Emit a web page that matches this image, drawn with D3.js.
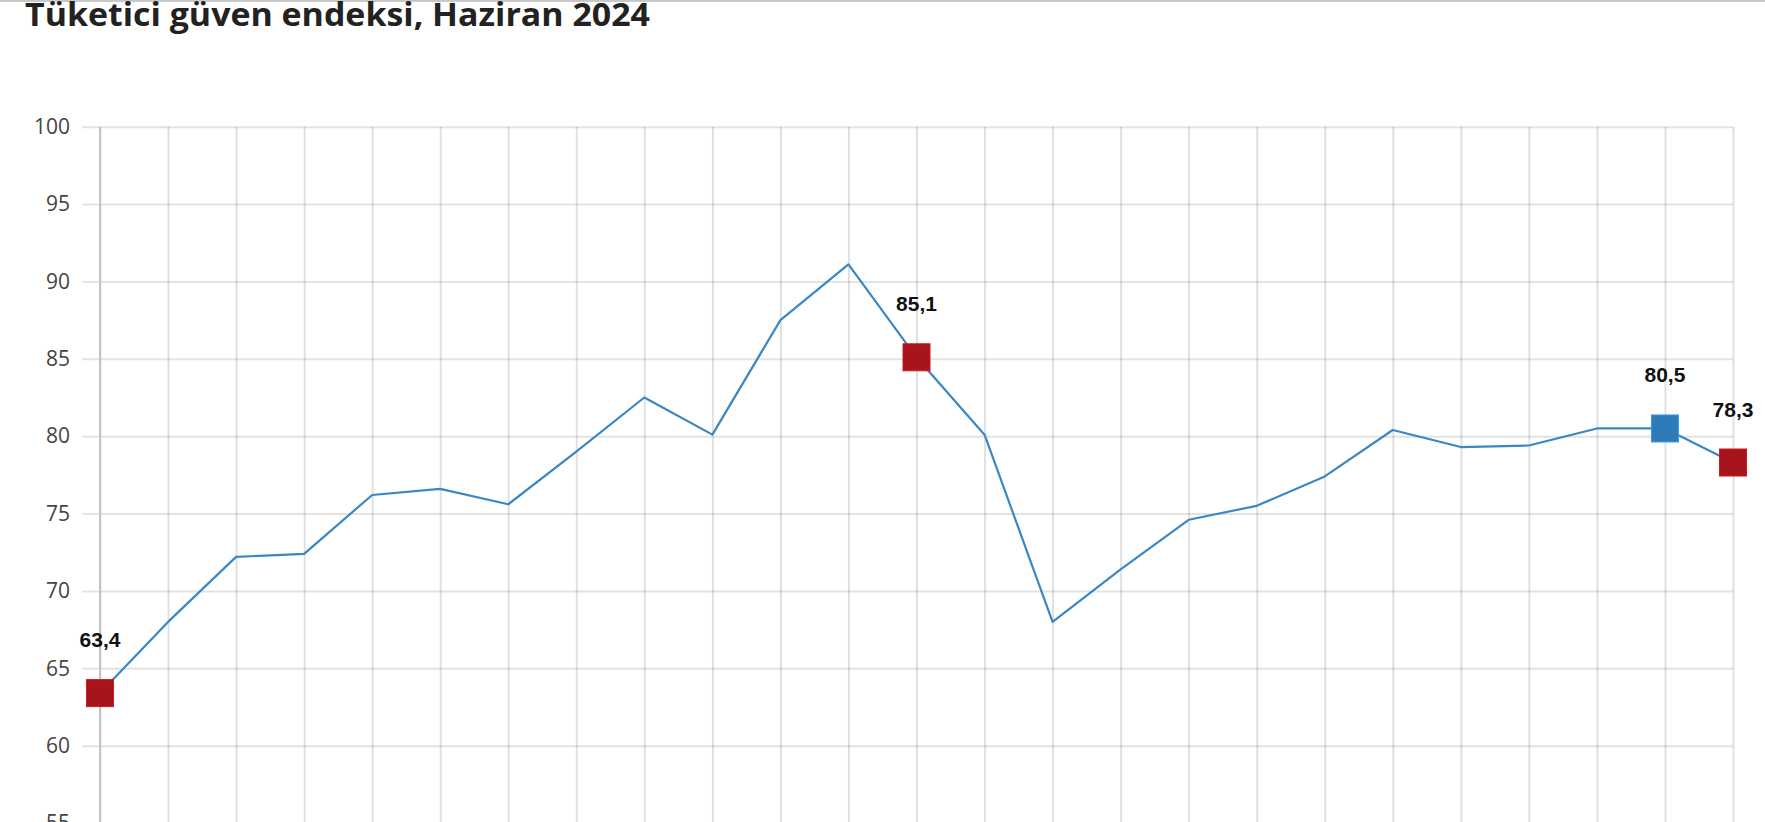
<!DOCTYPE html>
<html>
<head>
<meta charset="utf-8">
<script src="https://cdn.jsdelivr.net/npm/d3@7"></script>
<style>
  html, body { margin: 0; padding: 0; background: #fff; overflow: hidden; }
  svg { display: block; }
</style>
</head>
<body>
<svg id="chart" width="1765" height="822"></svg>
<script>
// ---- Data ----
const title = "Tüketici güven endeksi, Haziran 2024";
const months = ["2022-06","2022-07","2022-08","2022-09","2022-10","2022-11","2022-12",
  "2023-01","2023-02","2023-03","2023-04","2023-05","2023-06","2023-07","2023-08","2023-09",
  "2023-10","2023-11","2023-12","2024-01","2024-02","2024-03","2024-04","2024-05","2024-06"];
const values = [63.4, 68.0, 72.2, 72.4, 76.2, 76.6, 75.6, 79.0, 82.5, 80.1, 87.5, 91.1, 85.1,
  80.1, 68.0, 71.4, 74.6, 75.5, 77.4, 80.4, 79.3, 79.4, 80.5, 80.5, 78.3];
const highlightIdx = [0, 12, 23, 24];
const highlightColor = ["red", "red", "blue", "red"];
const yTicks = [55, 60, 65, 70, 75, 80, 85, 90, 95, 100];

// ---- Layout ----
const svg = d3.select("#chart");
const W = 1765, H = 822;
const x = d3.scalePoint().domain(months).range([100, 1733]);
const y = d3.scaleLinear().domain([60, 100]).range([745.7, 126.7]);
const colors = { red: "#a8141b", blue: "#2e7bba" };

// top border
svg.append("line").attr("x1", 0).attr("x2", W).attr("y1", 1).attr("y2", 1)
  .attr("stroke", "#c8c8c8").attr("stroke-width", 2);

// title
svg.append("text").text(title)
  .attr("x", 25).attr("y", 26)
  .attr("font-family", "'Open Sans', sans-serif")
  .attr("font-weight", 700).attr("font-size", 32)
  .attr("fill", "#222")
  .attr("textLength", 625).attr("lengthAdjust", "spacingAndGlyphs");

// vertical grid
const xAxis = d3.axisBottom(x).tickSize(-(H - y(100) + 10)).tickFormat("");
svg.append("g").attr("transform", `translate(0,${H + 10})`).call(xAxis)
  .call(g => g.select(".domain").remove())
  .call(g => g.selectAll(".tick line")
    .attr("stroke", "#000").attr("stroke-opacity", 0.12).attr("stroke-width", 2));

// horizontal grid + labels
const yAxis = d3.axisLeft(y).tickValues(yTicks).tickSize(-(1733 - 82)).tickPadding(12);
svg.append("g").attr("transform", "translate(82,0)").call(yAxis)
  .call(g => g.select(".domain").remove())
  .call(g => g.selectAll(".tick line")
    .attr("stroke", "#000").attr("stroke-opacity", 0.11).attr("stroke-width", 2))
  .call(g => g.selectAll(".tick text")
    .attr("font-family", "'Open Sans', sans-serif").attr("font-size", 21)
    .attr("fill", "#444"));

// y axis line (darker)
svg.append("line").attr("x1", x(months[0])).attr("x2", x(months[0]))
  .attr("y1", y(100)).attr("y2", H)
  .attr("stroke", "#c4c4c4").attr("stroke-width", 2);

// line
const line = d3.line().x((d, i) => x(months[i])).y(d => y(d));
svg.append("path").datum(values).attr("d", line)
  .attr("fill", "none").attr("stroke", "#3a87c4").attr("stroke-width", 2.2)
  .attr("stroke-linejoin", "round");

// markers
const s = 27;
const hl = highlightIdx.map((idx, k) => ({ idx, v: values[idx], c: colors[highlightColor[k]] }));
svg.append("g").selectAll("rect").data(hl).join("rect")
  .attr("x", d => x(months[d.idx]) - s / 2).attr("y", d => y(d.v) - s / 2)
  .attr("width", s).attr("height", s)
  .attr("fill", d => d.c).attr("stroke", d => d3.color(d.c).brighter(0.6)).attr("stroke-width", 1);

svg.append("g").selectAll("text").data(hl).join("text")
  .attr("x", d => x(months[d.idx])).attr("y", d => y(d.v) - 46)
  .attr("text-anchor", "middle")
  .attr("font-family", "'Liberation Sans', Arial, sans-serif")
  .attr("font-weight", 700).attr("font-size", 21).attr("fill", "#111")
  .text(d => d3.format(".1f")(d.v).replace(".", ","));
</script>
</body>
</html>
